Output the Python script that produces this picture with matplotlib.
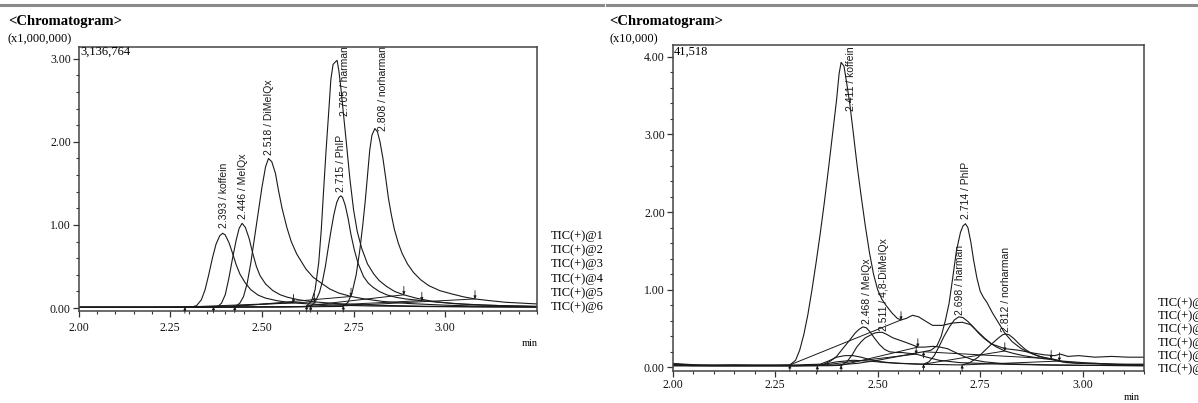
import numpy as np
import matplotlib
matplotlib.use("Agg")
import matplotlib.pyplot as plt
from matplotlib.ticker import MultipleLocator, FormatStrFormatter

plt.rcParams['font.family'] = 'Liberation Serif'

# ---------------- left chromatogram (x1,000,000) ----------------
l_names = ["koffein", "MeIQx", "DiMeIQx", "harman", "PhIP", "norharman"]
l_rt = [2.393, 2.446, 2.518, 2.705, 2.715, 2.808]

l_t1 = [2.00, 2.10, 2.20, 2.28, 2.31, 2.322, 2.335, 2.345, 2.355, 2.365, 2.375, 2.385, 2.393, 2.40, 2.41, 2.42,
        2.43, 2.44, 2.455, 2.47, 2.49, 2.51, 2.54, 2.57, 2.60, 2.65, 2.70, 2.80, 2.95, 3.10, 3.25]
l_y1 = [0.010, 0.010, 0.010, 0.012, 0.015, 0.03, 0.10, 0.22, 0.40, 0.60, 0.77, 0.87, 0.90, 0.88, 0.79, 0.66,
        0.52, 0.41, 0.30, 0.22, 0.155, 0.12, 0.09, 0.07, 0.058, 0.045, 0.035, 0.025, 0.018, 0.014, 0.012]

l_t2 = [2.00, 2.20, 2.35, 2.38, 2.39, 2.40, 2.41, 2.42, 2.43, 2.438, 2.446, 2.455, 2.465, 2.475, 2.485, 2.495,
        2.51, 2.53, 2.55, 2.57, 2.60, 2.643, 2.70, 2.80, 2.95, 3.10, 3.25]
l_y2 = [0.010, 0.010, 0.012, 0.02, 0.06, 0.16, 0.36, 0.60, 0.82, 0.96, 1.02, 0.97, 0.84, 0.66, 0.50, 0.39,
        0.29, 0.21, 0.16, 0.13, 0.10, 0.075, 0.055, 0.035, 0.022, 0.016, 0.012]

l_t3 = [2.00, 2.20, 2.40, 2.428, 2.44, 2.45, 2.46, 2.47, 2.48, 2.49, 2.50, 2.51, 2.518, 2.527, 2.537, 2.545,
        2.555, 2.568, 2.58, 2.595, 2.62, 2.64, 2.662, 2.685, 2.71, 2.743, 2.78, 2.83, 2.90, 3.00, 3.10, 3.25]
l_y3 = [0.010, 0.010, 0.012, 0.02, 0.06, 0.14, 0.30, 0.55, 0.85, 1.15, 1.45, 1.70, 1.80, 1.76, 1.62, 1.42,
        1.20, 0.97, 0.80, 0.65, 0.47, 0.37, 0.30, 0.23, 0.18, 0.14, 0.11, 0.08, 0.055, 0.035, 0.022, 0.015]

l_t4 = [2.00, 2.20, 2.40, 2.55, 2.62, 2.635, 2.645, 2.655, 2.662, 2.668, 2.675, 2.682, 2.688, 2.694, 2.700,
        2.705, 2.710, 2.716, 2.722, 2.730, 2.740, 2.750, 2.760, 2.772, 2.788, 2.805, 2.82, 2.84, 2.862, 2.887,
        2.92, 2.96, 3.02, 3.10, 3.25]
l_y4 = [0.010, 0.010, 0.012, 0.015, 0.02, 0.08, 0.22, 0.55, 0.95, 1.40, 1.90, 2.35, 2.75, 2.93, 2.96,
        2.98, 2.85, 2.62, 2.35, 2.00, 1.55, 1.18, 0.92, 0.72, 0.53, 0.41, 0.33, 0.26, 0.20, 0.16,
        0.12, 0.085, 0.055, 0.035, 0.02]

l_t5 = [2.00, 2.20, 2.40, 2.55, 2.632, 2.645, 2.657, 2.665, 2.673, 2.68, 2.688, 2.696, 2.704, 2.71, 2.715,
        2.72, 2.727, 2.735, 2.743, 2.752, 2.762, 2.777, 2.79, 2.803, 2.82, 2.84, 2.865, 2.892, 2.936, 2.98,
        3.05, 3.15, 3.25]
l_y5 = [0.010, 0.010, 0.012, 0.015, 0.02, 0.07, 0.19, 0.32, 0.50, 0.70, 0.92, 1.12, 1.27, 1.33, 1.35,
        1.33, 1.24, 1.08, 0.88, 0.70, 0.54, 0.38, 0.30, 0.25, 0.20, 0.16, 0.13, 0.11, 0.09, 0.07,
        0.048, 0.03, 0.02]

l_t6 = [2.00, 2.20, 2.40, 2.60, 2.72, 2.735, 2.746, 2.757, 2.767, 2.775, 2.782, 2.788, 2.794, 2.80, 2.808,
        2.815, 2.822, 2.83, 2.838, 2.845, 2.853, 2.861, 2.872, 2.882, 2.897, 2.913, 2.933, 2.955, 2.985,
        3.018, 3.05, 3.081, 3.12, 3.164, 3.25]
l_y6 = [0.010, 0.010, 0.012, 0.015, 0.02, 0.07, 0.19, 0.40, 0.70, 1.00, 1.30, 1.60, 1.90, 2.08, 2.16,
        2.12, 2.00, 1.80, 1.55, 1.32, 1.12, 0.95, 0.78, 0.66, 0.53, 0.43, 0.34, 0.27, 0.21,
        0.17, 0.135, 0.11, 0.09, 0.07, 0.05]

l_start = [2.29, 2.368, 2.426, 2.622, 2.633, 2.722]
l_end = [2.586, 2.643, 2.743, 2.887, 2.936, 3.081]

# ---------------- right chromatogram (x10,000) ----------------
r_names = ["koffein", "MeIQx", "4,8-DiMeIQx", "harman", "PhIP", "norharman"]
r_rt = [2.411, 2.468, 2.511, 2.698, 2.714, 2.812]

r_t1 = [2.00, 2.03, 2.06, 2.10, 2.15, 2.20, 2.25, 2.286, 2.30, 2.31, 2.32, 2.33, 2.34, 2.35, 2.36, 2.37, 2.38,
        2.39, 2.40, 2.406, 2.411, 2.418, 2.425, 2.432, 2.44, 2.45, 2.46, 2.47, 2.48, 2.49, 2.50, 2.51, 2.52,
        2.535, 2.548, 2.557, 2.57, 2.585, 2.60, 2.615, 2.634, 2.658, 2.682, 2.706, 2.726, 2.746, 2.762,
        2.778, 2.81, 2.843, 2.883, 2.907, 2.932, 2.945, 2.964, 2.99, 3.03, 3.07, 3.11, 3.15]
r_y1 = [0.05, 0.04, 0.03, 0.025, 0.03, 0.025, 0.025, 0.03, 0.09, 0.22, 0.42, 0.68, 1.00, 1.35, 1.72, 2.12, 2.55,
        3.00, 3.45, 3.78, 3.93, 3.88, 3.65, 3.40, 3.05, 2.60, 2.20, 1.82, 1.48, 1.20, 1.00, 0.88, 0.80,
        0.70, 0.63, 0.61, 0.63, 0.67, 0.65, 0.60, 0.54, 0.54, 0.57, 0.58, 0.55, 0.45, 0.37,
        0.30, 0.24, 0.22, 0.18, 0.16, 0.15, 0.17, 0.14, 0.15, 0.13, 0.14, 0.13, 0.13]

r_t2 = [2.00, 2.05, 2.10, 2.20, 2.30, 2.353, 2.37, 2.385, 2.40, 2.415, 2.432, 2.445, 2.455, 2.464, 2.472, 2.481,
        2.493, 2.505, 2.517, 2.529, 2.545, 2.56, 2.575, 2.594, 2.62, 2.65, 2.70, 2.75, 2.80, 2.90, 3.00, 3.15]
r_y2 = [0.03, 0.02, 0.02, 0.02, 0.02, 0.02, 0.04, 0.08, 0.14, 0.24, 0.35, 0.44, 0.49, 0.52, 0.51, 0.46,
        0.37, 0.29, 0.23, 0.20, 0.19, 0.19, 0.18, 0.17, 0.13, 0.09, 0.06, 0.05, 0.04, 0.03, 0.025, 0.02]

r_t3 = [2.00, 2.10, 2.20, 2.30, 2.38, 2.411, 2.425, 2.438, 2.449, 2.46, 2.47, 2.481, 2.492, 2.502, 2.511, 2.52,
        2.537, 2.553, 2.569, 2.584, 2.598, 2.615, 2.635, 2.652, 2.67, 2.69, 2.71, 2.73, 2.76, 2.80, 2.85,
        2.92, 3.00, 3.15]
r_y3 = [0.02, 0.02, 0.02, 0.02, 0.02, 0.025, 0.07, 0.16, 0.26, 0.33, 0.38, 0.41, 0.44, 0.45, 0.45, 0.43,
        0.38, 0.35, 0.32, 0.29, 0.26, 0.26, 0.27, 0.26, 0.24, 0.19, 0.14, 0.10, 0.07, 0.05, 0.04,
        0.03, 0.025, 0.02]

r_t4 = [2.00, 2.05, 2.10, 2.20, 2.30, 2.36, 2.38, 2.40, 2.42, 2.44, 2.46, 2.48, 2.51, 2.55, 2.58, 2.612, 2.625,
        2.638, 2.65, 2.662, 2.675, 2.687, 2.698, 2.708, 2.72, 2.733, 2.746, 2.76, 2.775, 2.79, 2.81, 2.83,
        2.855, 2.88, 2.905, 2.923, 2.95, 3.00, 3.05, 3.10, 3.15]
r_y4 = [0.04, 0.03, 0.03, 0.03, 0.03, 0.04, 0.08, 0.13, 0.15, 0.15, 0.13, 0.10, 0.07, 0.05, 0.045, 0.04, 0.07,
        0.15, 0.27, 0.40, 0.52, 0.61, 0.65, 0.64, 0.59, 0.52, 0.44, 0.37, 0.31, 0.26, 0.21, 0.18,
        0.15, 0.13, 0.11, 0.10, 0.07, 0.05, 0.04, 0.035, 0.03]

r_t5 = [2.00, 2.10, 2.20, 2.30, 2.40, 2.45, 2.50, 2.55, 2.60, 2.612, 2.63, 2.645, 2.655, 2.665, 2.674, 2.683,
        2.692, 2.702, 2.708, 2.714, 2.72, 2.727, 2.734, 2.742, 2.75, 2.758, 2.766, 2.78, 2.795, 2.81, 2.828,
        2.85, 2.869, 2.89, 2.909, 2.923, 2.95, 3.00, 3.07, 3.15]
r_y5 = [0.02, 0.02, 0.02, 0.02, 0.03, 0.05, 0.09, 0.14, 0.19, 0.20, 0.22, 0.28, 0.40, 0.60, 0.82, 1.15,
        1.50, 1.74, 1.82, 1.85, 1.80, 1.62, 1.38, 1.15, 0.98, 0.90, 0.84, 0.70, 0.57, 0.44, 0.33,
        0.24, 0.19, 0.15, 0.12, 0.11, 0.08, 0.06, 0.04, 0.03]

r_t6 = [2.00, 2.10, 2.20, 2.30, 2.36, 2.40, 2.44, 2.48, 2.52, 2.56, 2.60, 2.65, 2.706, 2.725, 2.745, 2.762, 2.78,
        2.795, 2.805, 2.812, 2.82, 2.832, 2.845, 2.86, 2.875, 2.893, 2.912, 2.93, 2.943, 2.96, 2.99, 3.03,
        3.08, 3.15]
r_y6 = [0.03, 0.02, 0.02, 0.02, 0.03, 0.07, 0.09, 0.08, 0.06, 0.05, 0.04, 0.035, 0.03, 0.06, 0.13, 0.22, 0.31,
        0.38, 0.42, 0.43, 0.42, 0.37, 0.30, 0.23, 0.18, 0.14, 0.12, 0.10, 0.08, 0.06, 0.05, 0.05,
        0.04, 0.04]

r_start = [2.286, 2.353, 2.411, 2.612, 2.612, 2.706]
r_end = [2.557, 2.594, 2.598, 2.81, 2.923, 2.943]

legend_lines = ["TIC(+)@1", "TIC(+)@2", "TIC(+)@3", "TIC(+)@4", "TIC(+)@5", "TIC(+)@6"]

W, H = 1198, 403
def fx(px):
    return px / W
def fy(py):
    return 1 - py / H

fig = plt.figure(figsize=(W / 100, H / 100), dpi=100)

# grey rule on top
fig.add_artist(plt.Line2D([0, fx(603)], [fy(4.5), fy(4.5)], color='#8a8a8a', lw=2.2))
fig.add_artist(plt.Line2D([fx(607), 1], [fy(4.5), fy(4.5)], color='#8a8a8a', lw=2.2))

line_kw = dict(color='#1a1a1a', lw=0.8)
sans = 'Liberation Sans'


def draw_panel(ax, traces, starts, ends, xlim, ylim, ymax_major):
    for t, y in traces:
        ax.plot(t, y, **line_kw)
    for k, (t, y) in enumerate(traces):
        ys = np.interp(starts[k], t, y)
        ye = np.interp(ends[k], t, y)
        ax.plot([starts[k], ends[k]], [ys, ye], color='#1a1a1a', lw=0.7)
        ax.annotate('', xy=(starts[k], ys), xytext=(0, -4.5), textcoords='offset points',
                    arrowprops=dict(arrowstyle='-|>', color='#1a1a1a', lw=0.6, mutation_scale=4,
                                    shrinkA=0, shrinkB=0))
        ax.annotate('', xy=(ends[k], ye), xytext=(0, 6), textcoords='offset points',
                    arrowprops=dict(arrowstyle='-|>', color='#1a1a1a', lw=0.6, mutation_scale=4,
                                    shrinkA=0, shrinkB=0))
    ax.set_xlim(*xlim)
    ax.set_ylim(*ylim)
    ax.set_xticks([2.0, 2.25, 2.5, 2.75, 3.0])
    ax.xaxis.set_minor_locator(MultipleLocator(0.05))
    ax.set_yticks(np.arange(0, ymax_major + 1))
    ax.yaxis.set_minor_locator(MultipleLocator(0.2))
    ax.xaxis.set_major_formatter(FormatStrFormatter('%.2f'))
    ax.yaxis.set_major_formatter(FormatStrFormatter('%.2f'))
    ax.tick_params(which='both', direction='out', colors='#333333', labelcolor='#111111', labelsize=8.5)
    ax.tick_params(which='major', length=4, width=0.9)
    ax.tick_params(which='minor', length=2.5, width=0.8)
    ax.tick_params(axis='y', pad=1.5)
    for s in ax.spines.values():
        s.set_color('#444444')
        s.set_linewidth(1.1)


# ---- left
axl = fig.add_axes([fx(78.5), fy(311), fx(537) - fx(78.5), fy(47.3) - fy(311)])
draw_panel(axl, [(l_t1, l_y1), (l_t2, l_y2), (l_t3, l_y3), (l_t4, l_y4), (l_t5, l_y5), (l_t6, l_y6)],
           l_start, l_end, (2.0, 3.25), (-0.035, 3.137), 3)
axl.tick_params(axis='x', pad=4)

l_lab_x = [2.396, 2.448, 2.520, 2.726, 2.716, 2.830]
l_lab_y = [0.96, 1.07, 1.84, 2.31, 1.40, 2.13]
for k in range(6):
    axl.text(l_lab_x[k], l_lab_y[k], "%.3f / %s" % (l_rt[k], l_names[k]), rotation=90,
             ha='center', va='bottom', fontsize=7.5, family=sans, color='#1a1a1a')

# ---- right
axr = fig.add_axes([fx(672.5), fy(371), fx(1144.3) - fx(672.5), fy(45.1) - fy(371)])
draw_panel(axr, [(r_t1, r_y1), (r_t2, r_y2), (r_t3, r_y3), (r_t4, r_y4), (r_t5, r_y5), (r_t6, r_y6)],
           r_start, r_end, (2.0, 3.15), (-0.048, 4.1518), 4)
axr.tick_params(axis='x', pad=2)

r_lab_x = [2.434, 2.475, 2.516, 2.700, 2.716, 2.814]
r_lab_y = [3.30, 0.56, 0.47, 0.67, 1.91, 0.46]
for k in range(6):
    axr.text(r_lab_x[k], r_lab_y[k], "%.3f / %s" % (r_rt[k], r_names[k]), rotation=90,
             ha='center', va='bottom', fontsize=7.5, family=sans, color='#1a1a1a')

# ---- text around panels
fig.text(fx(8), fy(21), "<Chromatogram>", fontsize=10.5, fontweight='bold', va='center', ha='left')
fig.text(fx(609), fy(21), "<Chromatogram>", fontsize=10.5, fontweight='bold', va='center', ha='left')
fig.text(fx(7), fy(39), "(x1,000,000)", fontsize=9, va='center', ha='left')
fig.text(fx(610), fy(39), "(x10,000)", fontsize=9, va='center', ha='left')
fig.text(fx(80), fy(52), "3,136,764", fontsize=9, va='center', ha='left')
fig.text(fx(674), fy(52), "41,518", fontsize=9, va='center', ha='left')
fig.text(fx(530), fy(344), "min", fontsize=7.5, va='center', ha='center')
fig.text(fx(1132), fy(398), "min", fontsize=7.5, va='center', ha='center')

for i, s in enumerate(legend_lines):
    fig.text(fx(550.5), fy(236 + 14.2 * i), s, fontsize=9, va='center', ha='left')
    fig.text(fx(1157.3), fy(303 + 13.2 * i), s, fontsize=9, va='center', ha='left')

fig.savefig("out.png", dpi=100)
